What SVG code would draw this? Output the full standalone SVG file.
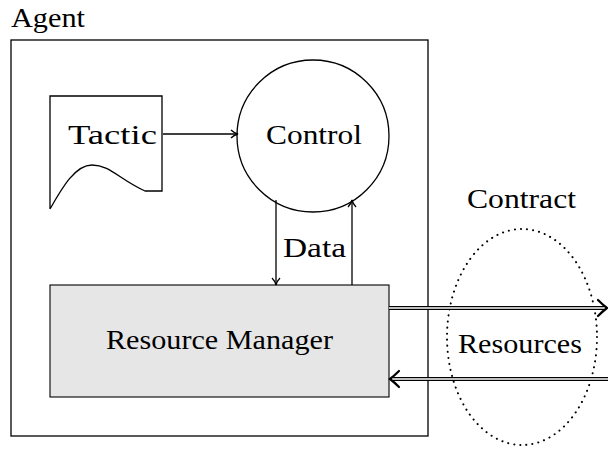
<svg xmlns="http://www.w3.org/2000/svg" width="608" height="457" viewBox="0 0 608 457">
<style>
text{font-family:"Liberation Serif","DejaVu Serif",serif;font-size:27px;fill:#000}
.ln{fill:none;stroke:#000;stroke-width:1.3}
.dbl{fill:none;stroke:#000;stroke-width:4.2}
.dbi{fill:none;stroke:#fff;stroke-width:1.6}
</style>
<defs>
<marker id="ah" viewBox="0 0 10 10" refX="9" refY="5" markerWidth="10" markerHeight="10" markerUnits="userSpaceOnUse" orient="auto">
<path d="M2,1 Q5,4 9,5 Q5,6 2,9" fill="none" stroke="#000" stroke-width="1.3"/>
</marker>
</defs>
<text x="11" y="27" textLength="74" lengthAdjust="spacingAndGlyphs">Agent</text>
<g id="agent"><rect x="11" y="40" width="417" height="396" class="ln" stroke-width="1"/></g>
<g id="tactic">
<path d="M50,209 L50,96 L162,96 L162,191 L145,191 C120,180 110,165 92,165 C75,165 62,188 50,209" class="ln" stroke-width="1.1"/>
<text x="68" y="144" textLength="89" lengthAdjust="spacingAndGlyphs">Tactic</text>
</g>
<g id="control">
<circle cx="313" cy="136" r="76" class="ln" stroke-width="1.1"/>
<text x="266" y="144" textLength="96" lengthAdjust="spacingAndGlyphs">Control</text>
</g>
<g id="rm">
<rect x="50" y="285" width="339" height="112" fill="#e6e6e6" stroke="#000" stroke-width="1.1"/>
<text x="106" y="349" textLength="227" lengthAdjust="spacingAndGlyphs">Resource Manager</text>
</g>
<g id="contract">
<ellipse cx="522" cy="337" rx="75" ry="108" fill="none" stroke="#000" stroke-width="2" stroke-dasharray="0.1 6" stroke-linecap="round"/>
<text x="467" y="208" textLength="109" lengthAdjust="spacingAndGlyphs">Contract</text>
<text x="458" y="353" textLength="124" lengthAdjust="spacingAndGlyphs">Resources</text>
</g>
<g id="connectors">
<line x1="163" y1="134" x2="238" y2="134" class="ln" marker-end="url(#ah)"/>
<line x1="276" y1="200" x2="276" y2="285" class="ln" marker-end="url(#ah)"/>
<line x1="352" y1="285" x2="352" y2="200" class="ln" marker-end="url(#ah)"/>
<text x="283" y="257" textLength="63" lengthAdjust="spacingAndGlyphs">Data</text>
<line x1="389" y1="308" x2="604" y2="308" class="dbl"/>
<line x1="389" y1="308" x2="605" y2="308" class="dbi"/>
<path d="M598,300 Q603,305 607,308 Q603,311 598,316" fill="none" stroke="#000" stroke-width="2.2" stroke-linecap="round"/>
<line x1="393" y1="379" x2="608" y2="379" class="dbl"/>
<line x1="392" y1="379" x2="608" y2="379" class="dbi"/>
<path d="M399,371 Q394,376 390,379 Q394,382 399,387" fill="none" stroke="#000" stroke-width="2.2" stroke-linecap="round"/>
</g>
</svg>
